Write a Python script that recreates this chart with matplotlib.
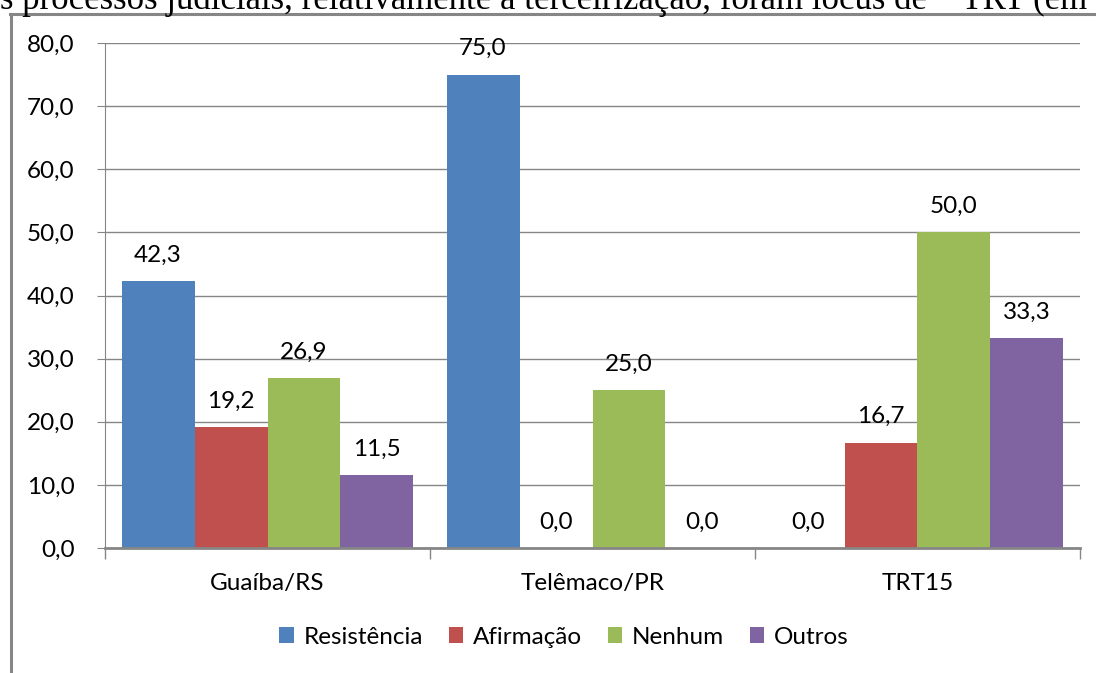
import numpy as np
import matplotlib
matplotlib.use("Agg")
import matplotlib.pyplot as plt
from matplotlib.lines import Line2D

# --- data ---
categories = ["Guaíba/RS", "Telêmaco/PR", "TRT15"]
series_names = ["Resistência", "Afirmação", "Nenhum", "Outros"]
resistencia = [42.3, 75.0, 0.0]
afirmacao = [19.2, 0.0, 16.7]
nenhum = [26.9, 25.0, 50.0]
outros = [11.5, 0.0, 33.3]
colors = ["#4F81BD", "#C0504D", "#9BBB59", "#8064A2"]

plt.rcParams["font.family"] = ["Lato", "DejaVu Sans"]
FS = 17.5

W, H = 1096, 673
fig = plt.figure(figsize=(W / 100, H / 100), dpi=100)
ax = fig.add_axes([105 / W, 1 - 548 / H, 975 / W, 505 / H])

# --- bars ---
x = np.arange(len(categories))
width = 0.2246
all_series = [resistencia, afirmacao, nenhum, outros]
for i, (vals, name, c) in enumerate(zip(all_series, series_names, colors)):
    pos = x + (i - 1.5) * width
    ax.bar(pos, vals, width=width, color=c, label=name, zorder=3)
    for p, v in zip(pos, vals):
        ax.annotate(f"{v:.1f}".replace(".", ","), (p, v), xytext=(0, 11),
                    textcoords="offset points", ha="center", va="bottom",
                    fontsize=FS, color="black")

# --- axes ---
ax.set_xlim(-0.5, 2.5)
ax.set_ylim(0, 80)
ax.set_yticks(np.arange(0, 81, 10))
ax.set_yticklabels([f"{v:.1f}".replace(".", ",") for v in np.arange(0, 81, 10)],
                   fontsize=FS)
ax.yaxis.grid(True, color="#868686", linewidth=1, zorder=0)
ax.tick_params(axis="y", length=6, color="#868686", pad=16)

ax.set_xticks(x)
ax.set_xticklabels(categories, fontsize=FS)
ax.set_xticks([-0.5, 0.5, 1.5, 2.5], minor=True)
ax.tick_params(axis="x", which="major", length=0, pad=18)
ax.tick_params(axis="x", which="minor", length=8, color="#868686", width=1)

for s in ["top", "right"]:
    ax.spines[s].set_visible(False)
ax.spines["left"].set_color("#868686")
ax.spines["bottom"].set_color("#868686")
ax.spines["bottom"].set_linewidth(2)
ax.spines["bottom"].set_zorder(4)

ax.legend(loc="center", bbox_to_anchor=(564 / W, 1 - 637 / H),
          bbox_transform=fig.transFigure, ncol=4, frameon=False,
          fontsize=FS, handlelength=0.6, handleheight=0.6,
          handletextpad=0.4, columnspacing=1.05)

# --- surrounding page text and frame ---
fig.text(0, 1 - 9 / H, "s processos judiciais, relativamente à terceirização, foram locus de    TRT (em",
         family="Liberation Serif", fontsize=25, ha="left", va="baseline")
fig.add_artist(Line2D([11 / W, 11 / W], [0, 1 - 14 / H],
                      transform=fig.transFigure, color="#868686", linewidth=2.2))
fig.add_artist(Line2D([10 / W, 1], [1 - 14 / H, 1 - 14 / H],
                      transform=fig.transFigure, color="#868686", linewidth=2.2))

fig.savefig("out.png", dpi=100)
